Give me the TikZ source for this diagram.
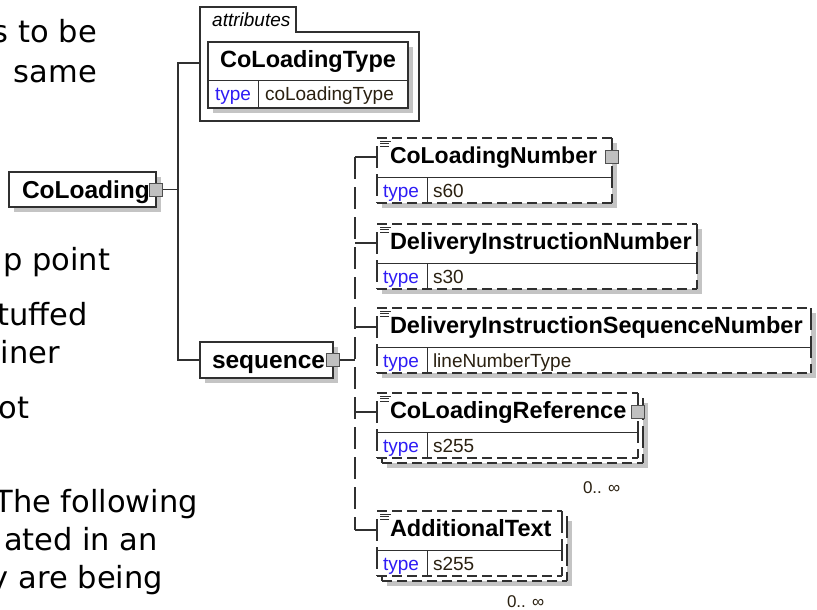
\documentclass[tikz,border=0pt]{standalone}
\usepackage{fontspec}
\setmainfont{Liberation Sans}
\newfontfamily\slidefont{DejaVu Sans}
\usetikzlibrary{shadows,calc}
\definecolor{linec}{HTML}{303030}
\definecolor{shadowc}{HTML}{C4C4C4}
\definecolor{typeblue}{HTML}{2E1CF5}
\definecolor{btnfill}{HTML}{C0C0C0}
\definecolor{btnline}{HTML}{505050}
\definecolor{valc}{HTML}{2A2010}
\tikzset{
  box/.style={draw=linec, line width=1.1pt, fill=white, inner sep=0pt, outer sep=0pt, anchor=north west},
  blank/.style={fill=white, inner sep=0pt, outer sep=0pt, anchor=north west},
  shadowed/.style={general shadow={fill=shadowc, shadow xshift=5pt, shadow yshift=-5pt}},
  plain/.style={},
  conn/.style={draw=linec, line width=1.1pt},
  spinedash/.style={draw=linec, line width=1.1pt, dash pattern=on 22pt off 8pt},
  edgeh/.style={draw=linec, line width=1.1pt, dash pattern=on 10pt off 5pt},
  edgev/.style={draw=linec, line width=1.1pt, dash pattern=on 22pt off 6pt},
  innerl/.style={draw=linec, line width=1pt},
  namet/.style={font=\fontsize{23.5}{23.5}\selectfont\bfseries, inner sep=0pt, outer sep=0pt, text=black},
  bignamet/.style={font=\fontsize{24.5}{24.5}\selectfont\bfseries, inner sep=0pt, outer sep=0pt, text=black},
  keyt/.style={font=\fontsize{19}{19}\selectfont, inner sep=0pt, outer sep=0pt, text=typeblue},
  valt/.style={font=\fontsize{19}{19}\selectfont, inner sep=0pt, outer sep=0pt, text=valc},
  occt/.style={font=\fontsize{17}{17}\selectfont, inner sep=0pt, outer sep=0pt, text=valc},
  slidet/.style={font=\slidefont\fontsize{30.5}{36}\selectfont, inner sep=0pt, outer sep=0pt, anchor=base east, text=black},
  btn/.style={draw=btnline, fill=btnfill, line width=1pt, minimum size=13pt, inner sep=0pt},
  iconl/.style={draw=linec, line width=0.8pt},
}
\newcommand{\xsElem}[7]{%
  \node[blank, #7, minimum width=#4pt, minimum height=65pt] (#1) at (#2,#3) {};
  \draw[edgeh] (#1.north west) -- (#1.north east);
  \draw[edgeh] (#1.south west) -- (#1.south east);
  \draw[edgev] ([yshift=-8pt]#1.north west) -- (#1.south west);
  \draw[edgev] (#1.north east) -- (#1.south east);
  \draw[innerl] ([yshift=26pt]#1.south west) -- ([yshift=26pt]#1.south east);
  \draw[innerl] ([xshift=50pt]#1.south west) -- ([xshift=50pt,yshift=26pt]#1.south west);
  \draw[iconl] ([shift={(3pt,-3pt)}]#1.north west) -- ([shift={(14pt,-3pt)}]#1.north west);
  \draw[iconl] ([shift={(3pt,-5.5pt)}]#1.north west) -- ([shift={(12pt,-5.5pt)}]#1.north west);
  \draw[iconl] ([shift={(3pt,-8pt)}]#1.north west) -- ([shift={(12pt,-8pt)}]#1.north west);
  \node[namet, anchor=base west] (#1-name) at ([shift={(13pt,-25.5pt)}]#1.north west) {#5};
  \node[keyt, anchor=base west] (#1-key) at ([shift={(6pt,5.5pt)}]#1.south west) {type};
  \node[valt, anchor=base west] (#1-val) at ([shift={(56pt,5.5pt)}]#1.south west) {#6};
  \coordinate (#1-in) at ([yshift=-19pt]#1.north west);
}
\begin{document}
\begin{tikzpicture}[x=1pt,y=-1pt]
\useasboundingbox[fill=white] (0,0) rectangle (817,610);

% background slide text
\node[slidet] (t1) at (97,43) {s to be};
\node[slidet] (t2) at (97,83) {same};
\node[slidet] (t3) at (110,270) {p point};
\node[slidet] (t4) at (88,325) {tuffed};
\node[slidet] (t5) at (60,363) {iner};
\node[slidet] (t6) at (29,418) {ot};
\node[slidet] (t7) at (198,512) {The following};
\node[slidet] (t8) at (158,550) {ated in an};
\node[slidet] (t9) at (163,588) {y are being};

% attributes container
\node[blank, minimum width=219pt, minimum height=114pt] (attrs) at (200,7) {};
\draw[conn] (attrs.south west) -- (attrs.north west) -- ([xshift=96pt]attrs.north west)
  -- ([shift={(96pt,-25pt)}]attrs.north west) -- ([yshift=-25pt]attrs.north east)
  -- (attrs.south east) -- cycle;
\node[font=\fontsize{19}{19}\selectfont\itshape, inner sep=0pt, anchor=base west] (attrs-label)
  at ([shift={(12pt,-20pt)}]attrs.north west) {attributes};

% CoLoadingType attribute
\node[box, shadowed, minimum width=200pt, minimum height=66pt] (clt) at (208,42) {};
\draw[innerl] ([yshift=27pt]clt.south west) -- ([yshift=27pt]clt.south east);
\draw[innerl] ([xshift=50pt]clt.south west) -- ([xshift=50pt,yshift=27pt]clt.south west);
\node[namet, anchor=base] (clt-name) at ([yshift=-26pt]clt.north) {CoLoadingType};
\node[keyt, anchor=base west] (clt-key) at ([shift={(7pt,7.5pt)}]clt.south west) {type};
\node[valt, anchor=base west] (clt-val) at ([shift={(57pt,7.5pt)}]clt.south west) {coLoadingType};

% CoLoading
\node[box, shadowed, minimum width=147pt, minimum height=35pt] (cl) at (9,172) {};
\node[bignamet, anchor=base west] (cl-name) at ([shift={(13pt,9pt)}]cl.south west) {CoLoading};
\node[btn] (cl-btn) at (cl.east) {};

% sequence
\node[box, shadowed, minimum width=133pt, minimum height=36pt] (seq) at (200,342) {};
\node[bignamet, anchor=base west] (seq-name) at ([shift={(12pt,10pt)}]seq.south west) {sequence};
\node[btn] (seq-btn) at (seq.east) {};

% connectors from CoLoading
\coordinate (trunk) at (178,189.5);
\draw[conn] (cl-btn.east) -- (trunk);
\draw[conn] ([yshift=-56pt]attrs.north west) -| (trunk) |- (seq.west);

% children
\xsElem{cln}{377}{138}{235}{\fontsize{23}{23}\selectfont CoLoadingNumber}{s60}{shadowed}
\node[btn] (cln-btn) at ([yshift=-19pt]cln.north east) {};
\xsElem{din}{377}{224}{320}{DeliveryInstructionNumber}{s30}{shadowed}
\xsElem{disn}{377}{308}{434}{DeliveryInstructionSequenceNumber}{lineNumberType}{shadowed}

\node[blank, shadowed, minimum width=261pt, minimum height=65pt] (clr-back) at (382,398) {};
\draw[edgeh] (clr-back.south west) -- (clr-back.south east);
\draw[edgev] (clr-back.north east) -- (clr-back.south east);
\draw[edgev] (clr-back.north west) -- (clr-back.south west);
\xsElem{clr}{377}{393}{261}{CoLoadingReference}{s255}{plain}
\node[btn] (clr-btn) at ([yshift=-19pt]clr.north east) {};
\node[occt, anchor=base west] (clr-occ) at (583,493) {0.. ∞};

\node[blank, shadowed, minimum width=185pt, minimum height=65pt] (at-back) at (382,516) {};
\draw[edgeh] (at-back.south west) -- (at-back.south east);
\draw[edgev] (at-back.north east) -- (at-back.south east);
\draw[edgev] (at-back.north west) -- (at-back.south west);
\xsElem{at}{377}{511}{185}{AdditionalText}{s255}{plain}
\node[occt, anchor=base west] (at-occ) at (507,607) {0.. ∞};

% sequence connectors
\coordinate (spine) at (355,360);
\draw[conn] (seq-btn.east) -- (spine |- seq-btn.east);
\draw[spinedash] (spine |- cln-in) -- (spine |- at-in);
\foreach \e in {cln,din,disn,clr,at} \draw[conn] (spine |- \e-in) -- (\e-in);
\end{tikzpicture}
\end{document}
